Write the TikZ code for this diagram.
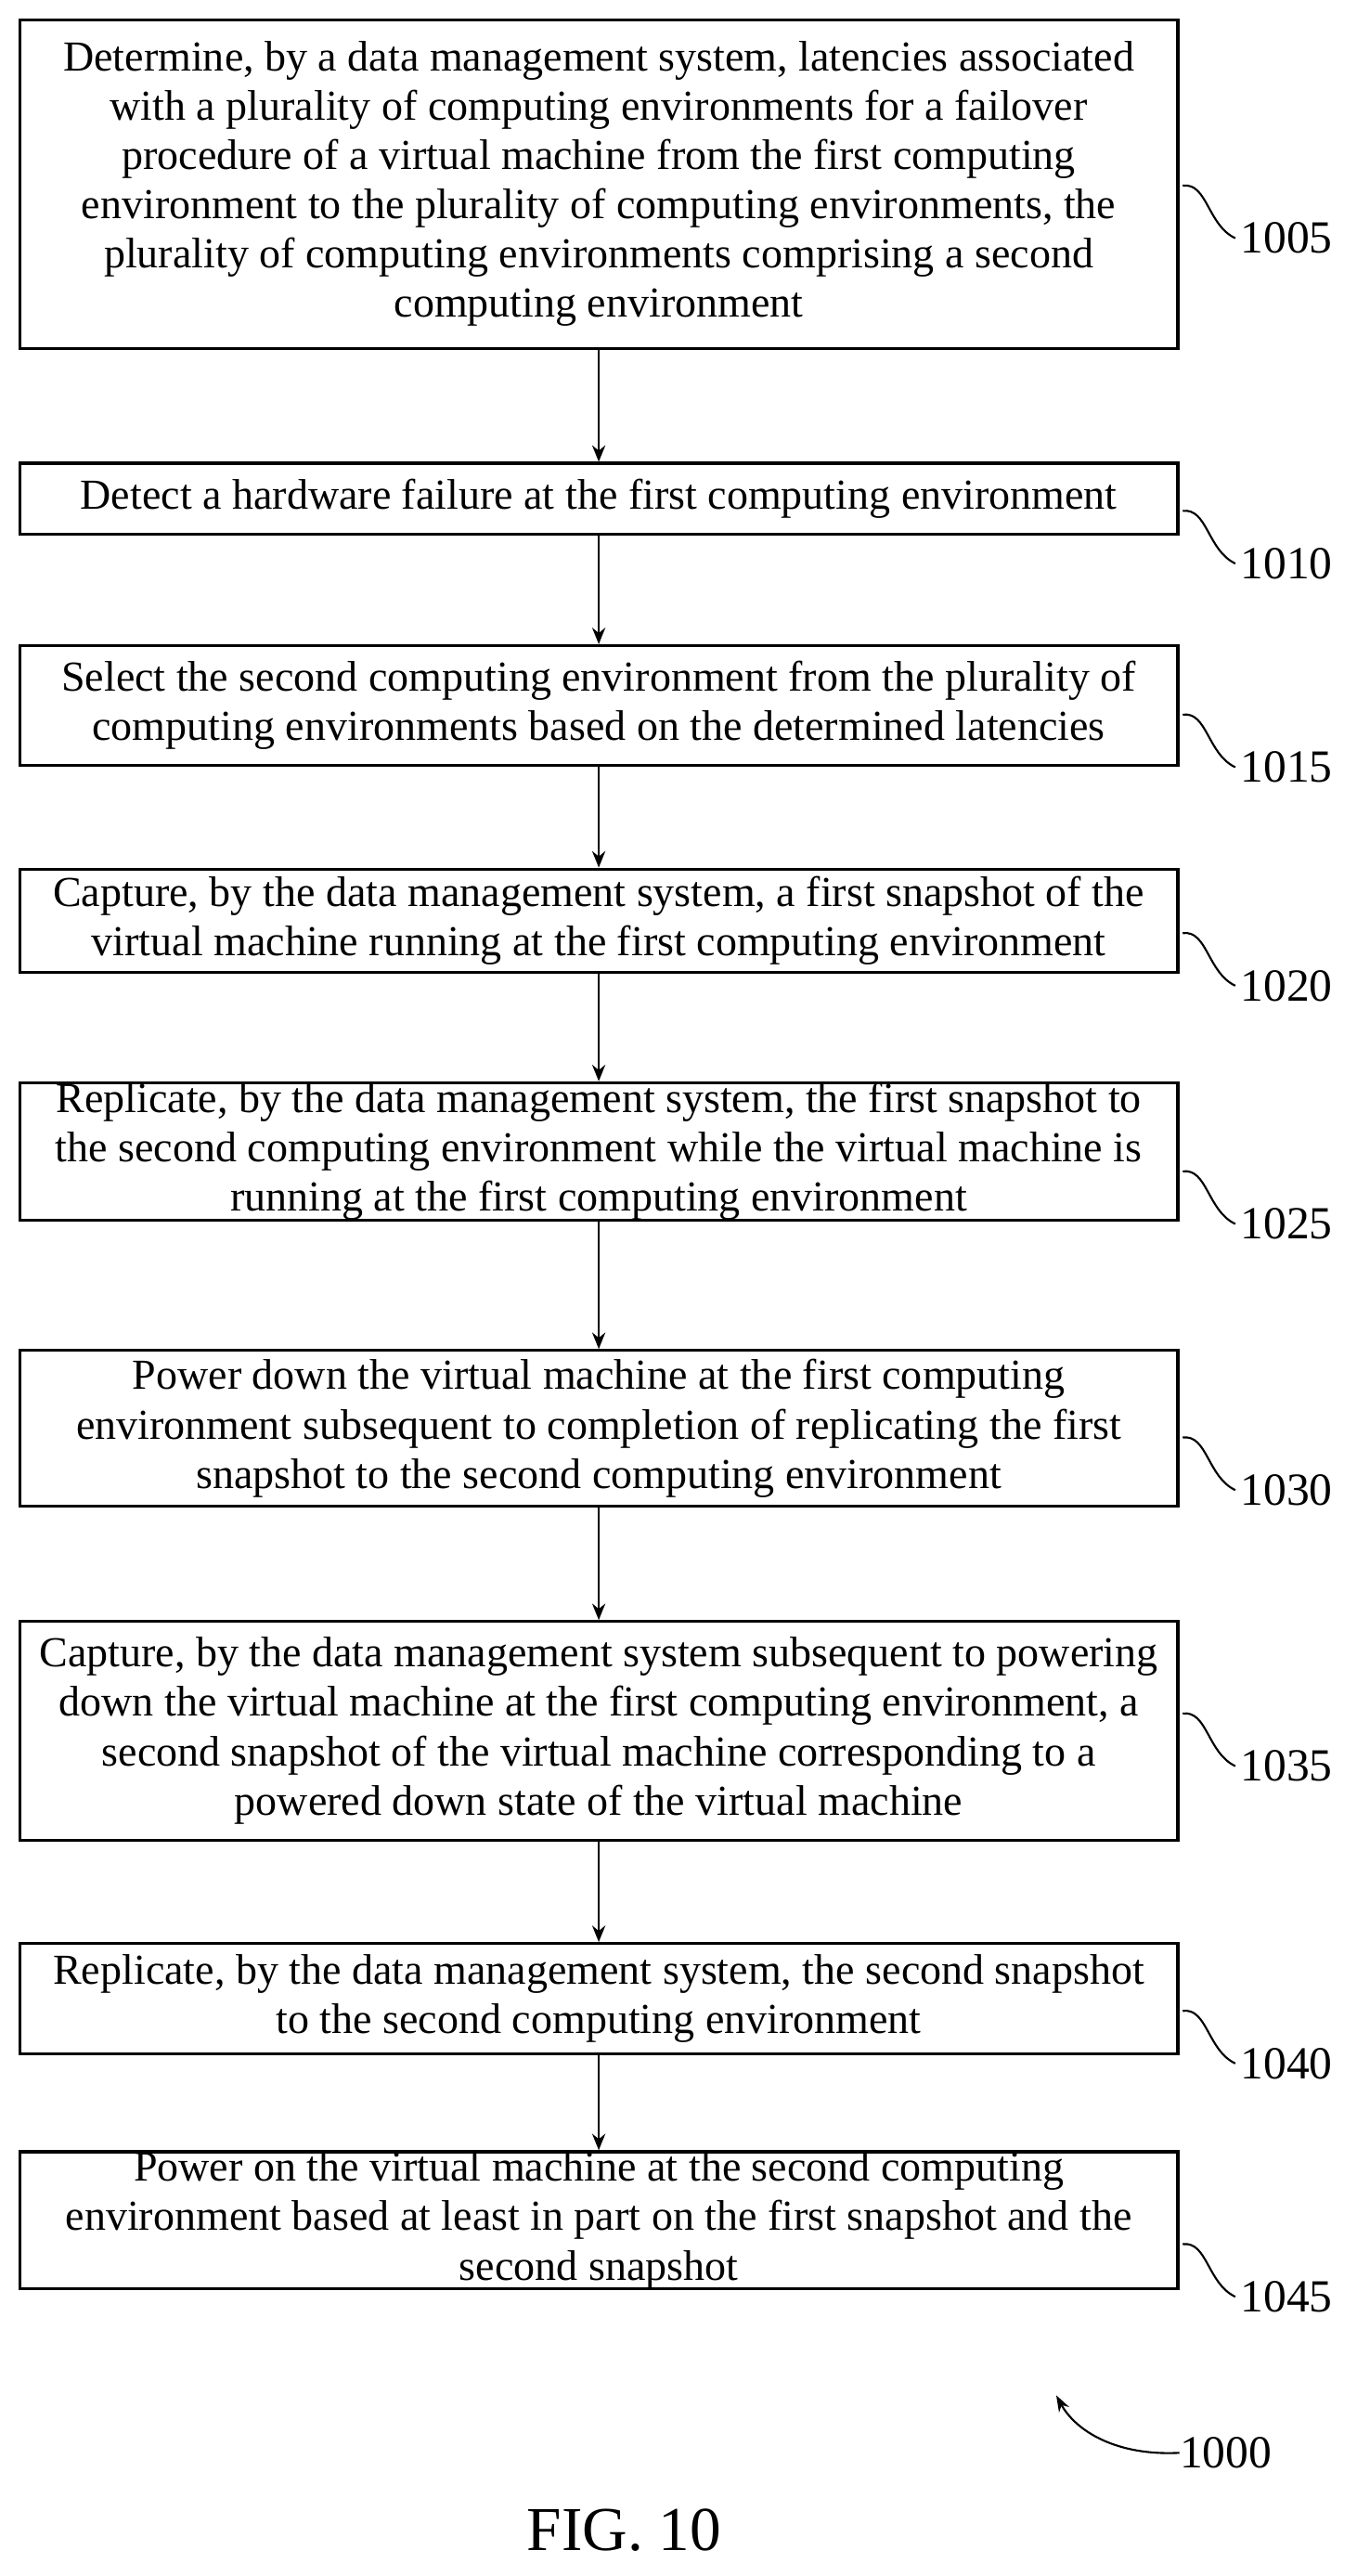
\documentclass[tikz,border=0pt]{standalone}
\usepackage{fontspec}
\setmainfont{Liberation Serif}
\usetikzlibrary{arrows.meta}
\begin{document}
\begin{tikzpicture}[x=1pt,y=-1pt,
 box/.style={draw,line width=1.8pt,align=center,font=\fontsize{26}{30}\selectfont,inner sep=0pt},
 arr/.style={line width=1.4pt,-{Stealth[length=10pt,width=8pt]}},
 lab/.style={anchor=west,font=\fontsize{28}{30}\selectfont,inner sep=0pt},
 sq/.style={line width=1.2pt}]
\useasboundingbox (0,0) rectangle (826,1568);
\def\mk#1#2#3#4{\node[box,minimum width=705pt,minimum height=#3pt-#2pt] (#1) at (364.5,{(#2+#3)/2}) {#4};}
\mk{b1}{12}{212}{Determine, by a data management system, latencies associated\\with a plurality of computing environments for a failover\\procedure of a virtual machine from the first computing\\environment to the plurality of computing environments, the\\plurality of computing environments comprising a second\\computing environment}
\mk{b2}{282}{325}{Detect a hardware failure at the first computing environment}
\mk{b3}{393}{466}{Select the second computing environment from the plurality of\\computing environments based on the determined latencies}
\mk{b4}{529}{592}{Capture, by the data management system, a first snapshot of the\\virtual machine running at the first computing environment}
\mk{b5}{660}{742}{Replicate, by the data management system, the first snapshot to\\the second computing environment while the virtual machine is\\running at the first computing environment}
\mk{b6}{822}{917}{Power down the virtual machine at the first computing\\environment subsequent to completion of replicating the first\\snapshot to the second computing environment}
\mk{b7}{987}{1120}{Capture, by the data management system subsequent to powering\\down the virtual machine at the first computing environment, a\\second snapshot of the virtual machine corresponding to a\\powered down state of the virtual machine}
\mk{b8}{1183}{1250}{Replicate, by the data management system, the second snapshot\\to the second computing environment}
\mk{b9}{1315}{1388}{Power on the virtual machine at the second computing\\environment based at least in part on the first snapshot and the\\second snapshot}
\foreach \a/\b in {b1/b2,b2/b3,b3/b4,b4/b5,b5/b6,b6/b7,b7/b8,b8/b9}
 \draw[arr] (\a.south) -- (\b.north);
\foreach \n/\y/\t in {b1/145/1005,b2/343/1010,b3/467/1015,b4/600/1020,b5/745/1025,b6/907/1030,b7/1075/1035,b8/1256/1040,b9/1398/1045}{
 \node[lab] (l\t) at (755,\y) {\t};
 \coordinate (s\t) at (720,\y-32);
 \draw[sq] (s\t) .. controls (735,\y-34) and (735,\y-8) .. (752,\y);
}
\node[lab] (l1000) at (718,1493) {1000};
\coordinate (c1000) at (643,1458);
\draw[line width=1.2pt,-{Stealth[length=10pt,width=7pt]}] (l1000.west) .. controls (680,1495) and (655,1480) .. (c1000);
\node[font=\fontsize{38}{40}\selectfont] (fig) at (380,1540) {FIG. 10};
\end{tikzpicture}
\end{document}
